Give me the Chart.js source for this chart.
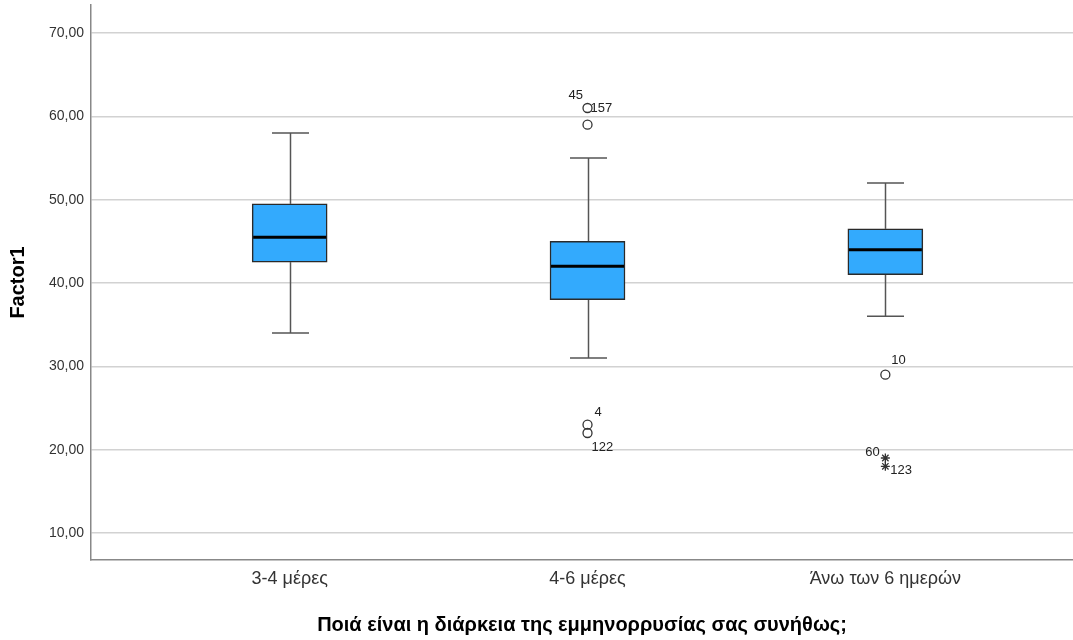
<!DOCTYPE html>
<html><head><meta charset="utf-8">
<script src="https://cdn.jsdelivr.net/npm/chart.js@4/dist/chart.umd.min.js"></script>
<style>html,body{margin:0;padding:0;background:#fff;}#wrap{width:1073px;height:640px;}</style>
</head><body><div id="wrap"><canvas id="c" width="1073" height="640"></canvas></div>
<script>
// ---- data ----
const categories = ['3-4 μέρες', '4-6 μέρες', 'Άνω των 6 ημερών'];
const whiskerLow  = [34, 31, 36];
const q1          = [42.5, 38, 41];
const median      = [45.5, 42, 44];
const q3          = [49.5, 45, 46.5];
const whiskerHigh = [58, 55, 52];
// outliers (circles): category index, value, case id
const outlierCat   = [1, 1, 1, 1, 2];
const outlierValue = [61, 59, 23, 22, 29];
const outlierId    = ['157', '45', '4', '122', '10'];
// extremes (stars)
const extremeCat   = [2, 2];
const extremeValue = [19, 18];
const extremeId    = ['60', '123'];
const yTicks = [10, 20, 30, 40, 50, 60, 70];
const xTitle = 'Ποιά είναι η διάρκεια της εμμηνορρυσίας σας συνήθως;';
const yTitle = 'Factor1';

// ---- styles ----
const FONT = "'Liberation Sans', Arial, sans-serif";
const outlierLabelOffset = [[3, 0], [-19, -29], [7, -12], [4, 14], [6, -14]];
const extremeLabelOffset = [[-20, -6], [5, 4]];
const CAP_HALF = 18.5;

const pos = i => i + 1;

const boxPlugin = {
  id: 'boxParts',
  beforeDatasetsDraw(chart) {
    const {ctx, scales: {x, y}} = chart;
    ctx.save();
    ctx.strokeStyle = '#555';
    ctx.lineWidth = 1.5;
    categories.forEach((c, i) => {
      const px = Math.round(x.getPixelForValue(pos(i))) + 0.5;
      [[whiskerHigh[i], q3[i]], [q1[i], whiskerLow[i]]].forEach(([a, b]) => {
        ctx.beginPath();
        ctx.moveTo(px, y.getPixelForValue(a));
        ctx.lineTo(px, y.getPixelForValue(b));
        ctx.stroke();
      });
      [whiskerHigh[i], whiskerLow[i]].forEach(v => {
        const py = y.getPixelForValue(v);
        ctx.beginPath();
        ctx.moveTo(px - CAP_HALF, py);
        ctx.lineTo(px + CAP_HALF, py);
        ctx.stroke();
      });
    });
    ctx.restore();
  },
  afterDatasetsDraw(chart) {
    const {ctx, scales: {x, y}} = chart;
    const bars = chart.getDatasetMeta(0).data;
    ctx.save();
    ctx.strokeStyle = '#000';
    ctx.lineWidth = 3;
    categories.forEach((c, i) => {
      const b = bars[i];
      const py = y.getPixelForValue(median[i]);
      ctx.beginPath();
      ctx.moveTo(b.x - b.width / 2 + 1, py);
      ctx.lineTo(b.x + b.width / 2 - 1, py);
      ctx.stroke();
    });
    ctx.fillStyle = '#222';
    ctx.font = '13px ' + FONT;
    ctx.textAlign = 'left';
    ctx.textBaseline = 'middle';
    outlierId.forEach((id, k) => {
      const px = x.getPixelForValue(pos(outlierCat[k]));
      const py = y.getPixelForValue(outlierValue[k]);
      ctx.fillText(id, px + outlierLabelOffset[k][0], py + outlierLabelOffset[k][1]);
    });
    extremeId.forEach((id, k) => {
      const px = x.getPixelForValue(pos(extremeCat[k]));
      const py = y.getPixelForValue(extremeValue[k]);
      ctx.fillText(id, px + extremeLabelOffset[k][0], py + extremeLabelOffset[k][1]);
    });
    ctx.restore();
  }
};

new Chart(document.getElementById('c'), {
  type: 'scatter',
  data: {
    datasets: [
      {
        type: 'bar',
        data: categories.map((c, i) => ({x: pos(i), y: [q1[i], q3[i]]})),
        backgroundColor: '#33aafd',
        borderColor: '#2a2a2a',
        borderWidth: 1.5,
        borderSkipped: false,
        barThickness: 75
      },
      {
        type: 'scatter',
        data: outlierValue.map((v, k) => ({x: pos(outlierCat[k]), y: v})),
        pointStyle: 'circle',
        pointRadius: 4.5,
        pointBorderWidth: 1.3,
        pointBorderColor: '#333',
        pointBackgroundColor: 'rgba(255,255,255,0)'
      },
      {
        type: 'scatter',
        data: extremeValue.map((v, k) => ({x: pos(extremeCat[k]), y: v})),
        pointStyle: 'star',
        pointRadius: 4.5,
        pointBorderWidth: 1.3,
        pointBorderColor: '#333',
        pointBackgroundColor: '#333'
      }
    ]
  },
  options: {
    responsive: false,
    animation: false,
    devicePixelRatio: 1,
    layout: {autoPadding: false, padding: {top: 5, right: 0, bottom: 0, left: 0}},
    plugins: {legend: {display: false}, tooltip: {enabled: false}},
    scales: {
      x: {
        type: 'linear',
        offset: false,
        min: 0.333,
        max: 3.63,
        afterBuildTicks: s => { s.ticks = categories.map((c, i) => ({value: pos(i)})); },
        afterFit: s => { s.height = 80; s.paddingLeft = 0; s.paddingRight = 0; },
        grid: {display: false, drawTicks: false, offset: false},
        border: {display: true, color: '#888', width: 1.5},
        ticks: {
          callback: (v) => categories[Math.round(v) - 1],
          font: {family: FONT, size: 18},
          color: '#333',
          padding: 8,
          maxRotation: 0,
          autoSkip: false
        },
        title: {
          display: true,
          text: xTitle,
          font: {family: FONT, size: 20, weight: 'bold'},
          color: '#000',
          padding: {top: 0, bottom: 3}
        }
      },
      y: {
        type: 'linear',
        min: 6.76,
        max: 73.36,
        afterBuildTicks: s => { s.ticks = yTicks.map(v => ({value: v})); },
        afterFit: s => { s.width = 91; s.paddingTop = 0; s.paddingBottom = 0; },
        grid: {color: '#d2d2d2', lineWidth: 1.5, drawTicks: false},
        border: {display: true, color: '#888', width: 1.5},
        ticks: {
          callback: v => v.toFixed(2).replace('.', ','),
          font: {family: FONT, size: 14},
          color: '#333',
          padding: 7
        },
        title: {
          display: true,
          text: yTitle,
          font: {family: FONT, size: 20, weight: 'bold'},
          color: '#000',
          padding: {top: 6, bottom: 0}
        }
      }
    }
  },
  plugins: [boxPlugin]
});
</script></body></html>
